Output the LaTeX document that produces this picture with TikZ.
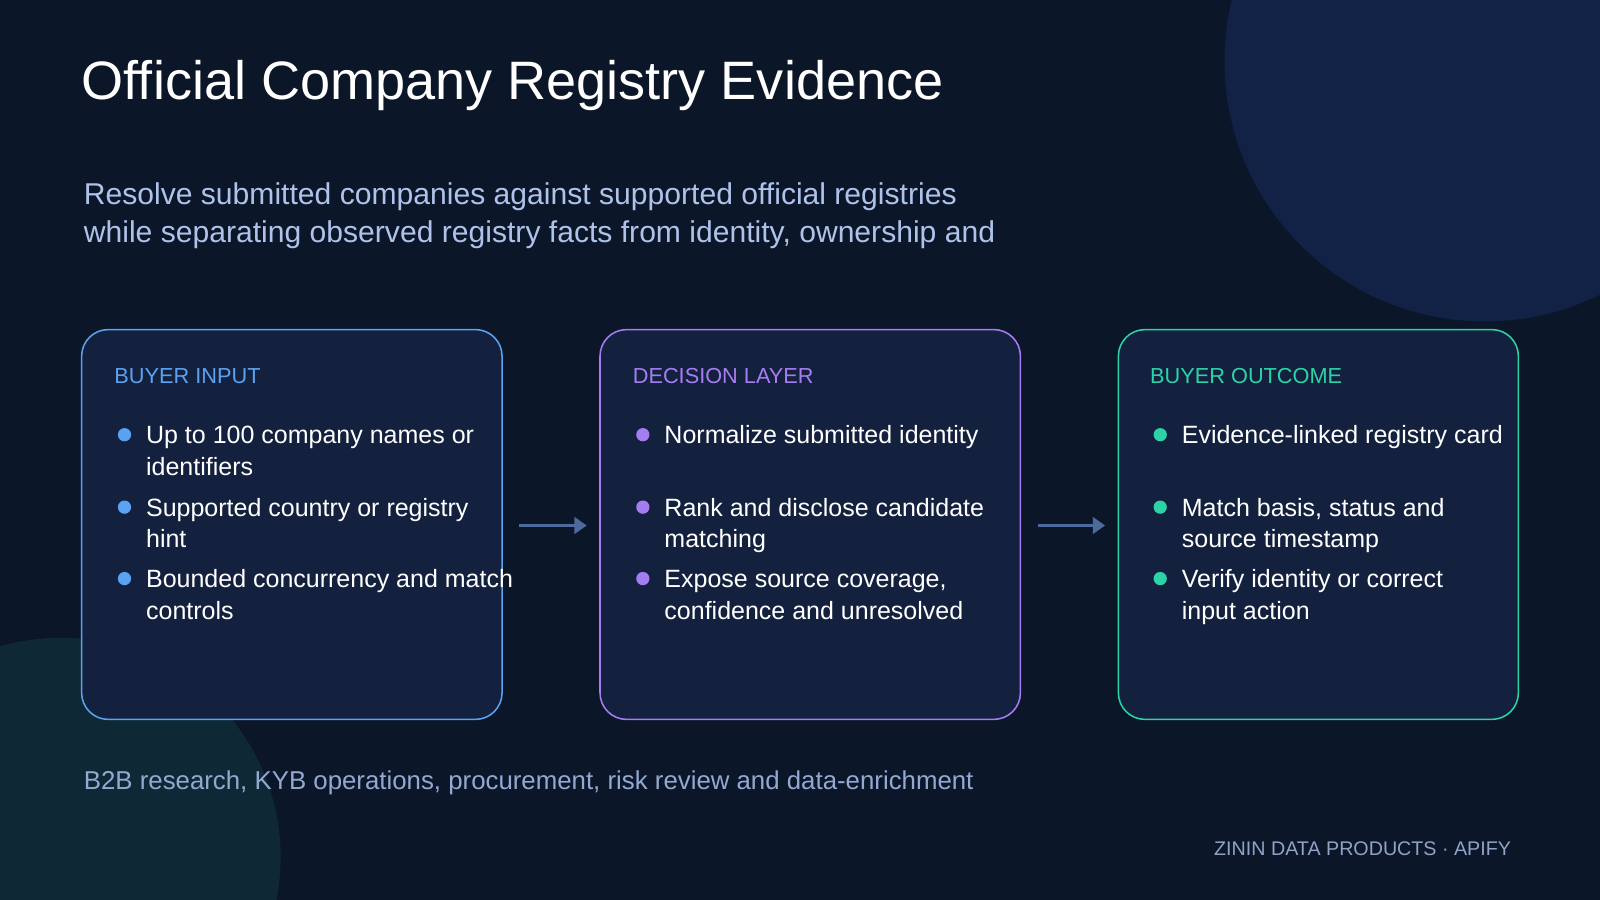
\documentclass[tikz,border=0pt]{standalone}
\usepackage{fontspec}
\setmainfont{Liberation Sans}
\usetikzlibrary{arrows.meta}
\definecolor{bg}{HTML}{0B1629}
\definecolor{circA}{HTML}{122247}
\definecolor{circB}{HTML}{0E2836}
\definecolor{boxfill}{HTML}{13213F}
\definecolor{cblue}{HTML}{5AA2F2}
\definecolor{cpurple}{HTML}{A67CF2}
\definecolor{cteal}{HTML}{2CD3A6}
\definecolor{subt}{HTML}{AFC3EA}
\definecolor{foot}{HTML}{93A9D2}
\definecolor{arr}{HTML}{4C6B9C}
\tikzset{
 every node/.style={inner sep=0pt},
 box/.style={draw=#1,line width=1.5pt,fill=boxfill,rounded corners=26pt},
 hdr/.style={anchor=base west,text=#1,font=\fontsize{21.3}{25}\selectfont},
 item/.style={anchor=base west,text=white,font=\fontsize{24.5}{31}\selectfont,align=left},
 dot/.style={circle,fill=#1,inner sep=0pt,minimum size=13pt},
 flow/.style={arr,line width=3.5pt,-{Triangle[length=12pt,width=16pt]}}
}
\begin{document}
\begin{tikzpicture}[x=1pt,y=-1pt]
\fill[bg] (0,0) rectangle (1568,882);
\useasboundingbox (0,0) rectangle (1568,882);
\begin{scope}
\clip (0,0) rectangle (1568,882);
\fill[circA] (1455,60) circle (255);
\fill[circB] (60,840) circle (215);
\end{scope}
\node[anchor=base west,text=white,font=\fontsize{53}{60}\selectfont] (title) at (80,98) {Official Company Registry Evidence};
\node[anchor=base west,text=subt,font=\fontsize{29.5}{37}\selectfont] (s1) at (82,200) {Resolve submitted companies against supported official registries};
\node[anchor=base west,text=subt,font=\fontsize{29.5}{37}\selectfont] (s2) at (82,238) {while separating observed registry facts from identity, ownership and};
% boxes
\draw[box=cblue] (80,323) rectangle (492,705);
\draw[box=cpurple] (588,323) rectangle (1000,705);
\draw[box=cteal] (1096,323) rectangle (1488,705);
\coordinate (a1) at (509,515); \coordinate (a2) at (575,515);
\coordinate (b1) at (1017,515); \coordinate (b2) at (1083,515);
\draw[flow] (a1) -- (a2);
\draw[flow] (b1) -- (b2);
% box 1
\node[hdr=cblue] (h1) at (112,376) {BUYER INPUT};
\node[dot=cblue] (d11) at (122,426) {};
\node[item] (t11) at (143,466) {Up to 100 company names or\\identifiers};
\node[dot=cblue] (d12) at (122,497) {};
\node[item] (t12) at (143,537) {Supported country or registry\\hint};
\node[dot=cblue] (d13) at (122,567) {};
\node[item] (t13) at (143,607) {Bounded concurrency and match\\controls};
% box 2
\node[hdr=cpurple] (h2) at (620,376) {DECISION LAYER};
\node[dot=cpurple] (d21) at (630,426) {};
\node[item] (t21) at (651,435) {Normalize submitted identity};
\node[dot=cpurple] (d22) at (630,497) {};
\node[item] (t22) at (651,537) {Rank and disclose candidate\\matching};
\node[dot=cpurple] (d23) at (630,567) {};
\node[item] (t23) at (651,607) {Expose source coverage,\\confidence and unresolved};
% box 3
\node[hdr=cteal] (h3) at (1127,376) {BUYER OUTCOME};
\node[dot=cteal] (d31) at (1137,426) {};
\node[item] (t31) at (1158,435) {Evidence-linked registry card};
\node[dot=cteal] (d32) at (1137,497) {};
\node[item] (t32) at (1158,537) {Match basis, status and\\source timestamp};
\node[dot=cteal] (d33) at (1137,567) {};
\node[item] (t33) at (1158,607) {Verify identity or correct\\input action};
% footers
\node[anchor=base west,text=foot,font=\fontsize{25.3}{30}\selectfont] (f1) at (82,774) {B2B research, KYB operations, procurement, risk review and data-enrichment};
\node[anchor=base east,text=foot!85!gray,font=\fontsize{19.3}{24}\selectfont] (f2) at (1481,838) {ZININ DATA PRODUCTS · APIFY};
\end{tikzpicture}
\end{document}
